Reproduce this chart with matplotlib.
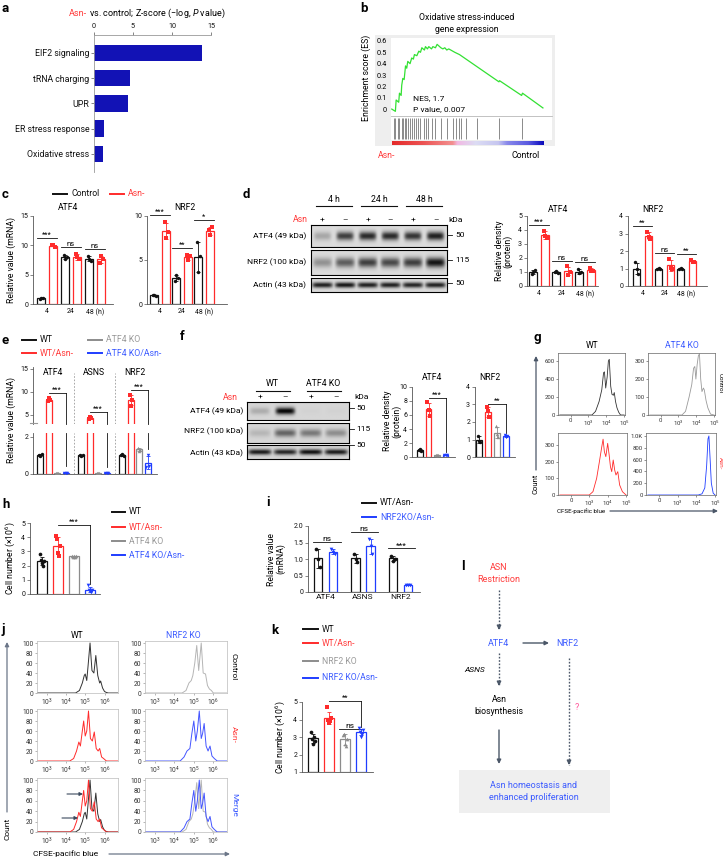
import numpy as np
import matplotlib
matplotlib.use('Agg')
import matplotlib.pyplot as plt
from matplotlib.lines import Line2D
from matplotlib.patches import Rectangle, FancyArrowPatch
from matplotlib.colors import LinearSegmentedColormap

# ---------------- data ----------------
# a  pathway enrichment
path_names = ['EIF2 signaling', 'tRNA charging', 'UPR', 'ER stress response', 'Oxidative stress']
path_z = [13.8, 4.6, 4.3, 1.3, 1.2]

# b  GSEA running enrichment score (rank in %)
es_rank = [0, 2.4, 2.9, 4.6, 5.1, 6.2, 6.6, 7.3, 8.2, 9.1, 9.9, 10.6, 12.1, 13.2, 14.3,
           15.0, 16.6, 17.9, 19.0, 19.9, 21.6, 22.3, 23.6, 24.5, 26.3, 27.2, 28.9, 30.0,
           32.5, 33.8, 35.1, 36.4, 37.7, 41.7, 44.8, 70.9, 71.3, 85.9, 86.5, 100]
es_val = [0, -0.02, 0.08, 0.06, 0.14, 0.12, 0.21, 0.27, 0.26, 0.38, 0.36, 0.42, 0.40, 0.45, 0.44,
          0.48, 0.47, 0.51, 0.50, 0.54, 0.52, 0.55, 0.53, 0.55, 0.53, 0.55, 0.54, 0.57,
          0.54, 0.53, 0.54, 0.52, 0.53, 0.50, 0.48, 0.24, 0.25, 0.12, 0.14, 0.01]
hit_rank = [1.3, 2.4, 3.8, 5.1, 6.6, 7.7, 8.6, 9.7, 11.0, 12.1, 13.5, 14.6, 16.1, 17.4, 18.8,
            21.4, 22.7, 24.1, 26.3, 28.9, 32.7, 36.4, 40.4, 42.6, 44.4, 45.9, 49.2, 56.7, 70.9, 86.1]

# c  mRNA time course (replicates)
times = ['4', '24', '48 (h)']
c_atf4_ctrl = [[0.9, 1.0, 1.1], [8.3, 7.6, 8.0], [8.2, 7.7, 7.3]]
c_atf4_asn = [[10.1, 10.0, 9.8], [8.6, 8.0, 7.6], [7.0, 8.2, 7.6]]
c_nrf2_ctrl = [[1.0, 1.05, 0.95], [2.6, 3.3, 3.0], [7.0, 3.6, 5.4]]
c_nrf2_asn = [[9.3, 7.5, 8.2], [5.6, 5.0, 5.4], [8.4, 7.8, 8.7]]
c_atf4_sig = ['***', 'ns', 'ns']
c_nrf2_sig = ['***', '**', '*']

# d  western blot + densitometry
d_band_atf4 = [0.25, 0.75, 0.85, 0.85, 0.8, 0.9]
d_band_nrf2 = [0.35, 0.6, 0.75, 0.7, 0.75, 0.95]
d_band_actin = [0.9, 0.95, 0.9, 0.9, 0.88, 0.9]
d_atf4_ctrl = [[0.85, 1.0, 1.15], [1.0, 1.1, 0.95], [1.2, 0.9, 1.0]]
d_atf4_asn = [[3.95, 3.6, 3.4], [1.4, 0.8, 1.0], [1.3, 1.1, 1.05]]
d_nrf2_ctrl = [[1.35, 0.95, 0.7], [1.0, 1.02, 0.98], [1.0, 1.02, 0.97]]
d_nrf2_asn = [[3.1, 2.8, 2.7], [1.55, 1.05, 0.95], [1.5, 1.4, 1.35]]
d_atf4_sig = ['***', 'ns', 'ns']
d_nrf2_sig = ['**', 'ns', '**']

# e  mRNA in WT / ATF4 KO
e_genes = ['ATF4', 'ASNS', 'NRF2']
e_wt = [[1.0, 0.95, 1.05], [1.0, 0.97, 1.03], [1.0, 1.05, 0.95]]
e_wt_asn = [[8.0, 8.6, 8.3], [4.1, 4.5, 4.3], [9.3, 7.0, 8.3]]
e_ko = [[0.05, 0.06, 0.04], [0.04, 0.05, 0.06], [1.4, 1.25, 1.3]]
e_ko_asn = [[0.05, 0.06, 0.07], [0.03, 0.05, 0.04], [0.4, 1.0, 0.45]]

# f  blot WT / ATF4 KO
f_band_atf4 = [0.2, 1.0, 0.02, 0.02]
f_band_nrf2 = [0.15, 0.55, 0.45, 0.35]
f_band_actin = [0.9, 0.85, 0.95, 0.9]
f_atf4 = [[1.0, 1.15, 0.9], [7.8, 6.7, 5.9], [0.3, 0.35, 0.3], [0.3, 0.32, 0.35]]
f_nrf2 = [[1.2, 0.9, 0.85], [2.85, 2.6, 2.3], [1.75, 1.3, 1.15], [1.25, 1.15, 1.2]]

# g  CFSE histograms (x in biexponential units: 0, 10^3, 10^4, 10^5 -> 0..3)
g_wt_ctrl_x = [-0.6, 1.2, 1.4, 1.6, 1.75, 1.85, 1.9, 1.97, 2.05, 2.12, 2.17, 2.25, 2.32, 2.4, 2.45, 2.52, 2.6, 2.7, 2.8, 3.0]
g_wt_ctrl_y = [0, 0, 40, 150, 280, 470, 480, 300, 420, 600, 620, 320, 230, 220, 250, 150, 80, 30, 0, 0]
g_ko_ctrl_x = [-0.6, 1.2, 1.4, 1.6, 1.75, 1.85, 1.92, 1.98, 2.05, 2.12, 2.18, 2.25, 2.32, 2.4, 2.45, 2.55, 2.65, 2.8, 3.0]
g_ko_ctrl_y = [0, 0, 20, 100, 170, 260, 270, 200, 280, 330, 340, 200, 130, 150, 140, 80, 40, 5, 0]
g_wt_asn_x = [-0.6, 1.0, 1.2, 1.4, 1.55, 1.68, 1.75, 1.82, 1.9, 2.0, 2.08, 2.15, 2.22, 2.3, 2.38, 2.45, 2.55, 2.65, 2.8, 3.0]
g_wt_asn_y = [0, 0, 20, 100, 200, 290, 335, 260, 230, 310, 240, 170, 140, 210, 150, 120, 140, 60, 20, 0]
g_ko_asn_x = [-0.6, 2.1, 2.3, 2.45, 2.55, 2.62, 2.67, 2.72, 2.8, 2.9, 3.0]
g_ko_asn_y = [0, 0, 20, 120, 500, 950, 1000, 700, 200, 30, 0]

# h  cell numbers
h_groups = ['WT', 'WT/Asn-', 'ATF4 KO', 'ATF4 KO/Asn-']
h_cells = [[2.8, 2.4, 2.2, 2.0, 2.3], [4.1, 3.9, 2.9, 2.7, 3.4],
           [2.7, 2.6, 2.65, 2.6, 2.7], [0.6, 0.3, 0.2, 0.15, 0.25]]

# i  mRNA WT/Asn- vs NRF2KO/Asn-
i_genes = ['ATF4', 'ASNS', 'NRF2']
i_wt = [[1.3, 1.0, 0.75], [1.15, 1.0, 0.9], [1.1, 0.95, 1.0]]
i_ko = [[1.3, 1.2, 1.15], [1.6, 1.4, 1.15], [0.22, 0.2, 0.21]]
i_sig = ['ns', 'ns', '***']

# j  CFSE histograms (x = log10 intensity)
j_wt_ctrl_x = [2.5, 4.5, 4.7, 4.85, 4.95, 5.0, 5.08, 5.15, 5.25, 5.35, 5.45, 5.55, 5.65, 5.75, 5.8, 5.9, 6.0, 6.1, 6.2, 6.7]
j_wt_ctrl_y = [0, 0, 5, 20, 35, 38, 25, 55, 100, 45, 40, 75, 35, 20, 24, 10, 3, 1, 0, 0]
j_ko_ctrl_x = [2.5, 4.4, 4.6, 4.75, 4.87, 4.95, 5.05, 5.15, 5.25, 5.38, 5.48, 5.6, 5.7, 5.8, 5.9, 6.0, 6.7]
j_ko_ctrl_y = [0, 0, 5, 20, 25, 35, 60, 95, 45, 100, 40, 38, 15, 8, 5, 0, 0]
j_wt_asn_x = [2.5, 4.2, 4.4, 4.55, 4.67, 4.75, 4.85, 4.92, 5.0, 5.08, 5.17, 5.27, 5.37, 5.47, 5.57, 5.67, 5.75, 5.85, 5.95, 6.1, 6.7]
j_wt_asn_y = [0, 0, 5, 20, 38, 30, 60, 80, 50, 60, 100, 45, 40, 58, 25, 20, 25, 8, 5, 0, 0]
j_ko_asn_x = [2.5, 4.3, 4.5, 4.65, 4.8, 4.9, 5.0, 5.1, 5.18, 5.28, 5.38, 5.45, 5.53, 5.63, 5.73, 5.83, 5.93, 6.05, 6.2, 6.7]
j_ko_asn_y = [0, 0, 8, 20, 25, 55, 80, 40, 60, 100, 45, 55, 75, 30, 20, 30, 10, 5, 0, 0]

# k  cell numbers WT / NRF2 KO
k_groups = ['WT', 'WT/Asn-', 'NRF2 KO', 'NRF2 KO/Asn-']
k_cells = [[3.3, 2.9, 2.6, 3.0, 2.8], [4.7, 4.0, 3.8, 3.9, 4.1],
           [3.1, 3.2, 2.6, 2.5, 2.9], [3.5, 3.3, 3.0, 3.2, 3.4]]

# ---------------- style ----------------
W, H = 723, 859
BLK = '#111111'
RED = '#ff2b2b'
GRY = '#8c8c8c'
BLU = '#1f3dff'
TRED = '#ff3b3b'
TBLU = '#3d5cff'
BARBLU = '#1212b5'
SLATE = '#4b5768'
AXC = '#555555'
FOUR = [BLK, RED, GRY, BLU]
MARK = ['o', 's', '^', 'v']

plt.rcParams['font.family'] = ['Roboto', 'DejaVu Sans']
plt.rcParams['mathtext.fontset'] = 'custom'
plt.rcParams['mathtext.rm'] = 'Roboto'
plt.rcParams['mathtext.it'] = 'Roboto:italic'
plt.rcParams['font.size'] = 5
plt.rcParams['axes.linewidth'] = 0.6
plt.rcParams['xtick.major.width'] = 0.5
plt.rcParams['ytick.major.width'] = 0.5
plt.rcParams['xtick.major.size'] = 2
plt.rcParams['ytick.major.size'] = 2
plt.rcParams['xtick.major.pad'] = 1.5
plt.rcParams['ytick.major.pad'] = 1.5

fig = plt.figure(figsize=(W / 100, H / 100), dpi=100)


def box(x0, y0, x1, y1):
    return fig.add_axes([x0 / W, 1 - y1 / H, (x1 - x0) / W, (y1 - y0) / H])


def T(x, y, s, **kw):
    kw.setdefault('ha', 'center')
    kw.setdefault('va', 'center')
    return fig.text(x / W, 1 - y / H, s, **kw)


def L(xs, ys, **kw):
    fig.add_artist(Line2D([x / W for x in xs], [1 - y / H for y in ys], **kw))


def arrow(x0, y0, x1, y1, color=SLATE, lw=1.0, dotted=False, ms=6):
    if dotted:
        L([x0, x1], [y0, y1], color=color, lw=lw, ls=(0, (1.2, 1.2)))
        dx, dy = x1 - x0, y1 - y0
        n = np.hypot(dx, dy)
        x0, y0 = x1 - 3 * dx / n, y1 - 3 * dy / n
    fig.add_artist(FancyArrowPatch((x0 / W, 1 - y0 / H), (x1 / W, 1 - y1 / H),
                                   transform=fig.transFigure, arrowstyle='-|>',
                                   mutation_scale=ms, color=color, lw=lw,
                                   shrinkA=0, shrinkB=0))


def leg(x0, y, label, color, tcolor=None, seg=14, fs=6):
    L([x0, x0 + seg], [y, y], color=color, lw=1.4)
    T(x0 + seg + 4, y, label, ha='left', color=tcolor or color, fontsize=fs)


def style(ax, color=AXC):
    for s in ('top', 'right'):
        ax.spines[s].set_visible(False)
    for s in ('left', 'bottom'):
        ax.spines[s].set_color(color)
    ax.tick_params(colors=color, labelcolor=BLK, labelsize=5)


def dotbar(ax, x, pts, color, w, marker='o', s=6, bottom=0):
    m = np.mean(pts)
    sd = np.std(pts, ddof=1)
    ax.bar(x, m - bottom, width=w, bottom=bottom, facecolor='white', edgecolor=color,
           linewidth=0.9, zorder=2)
    ax.errorbar(x, m, yerr=sd, color=color, capsize=1.3, elinewidth=0.6,
                capthick=0.6, zorder=3, fmt='none')
    offs = np.linspace(-0.2 * w, 0.2 * w, len(pts))
    ax.scatter(x + offs, pts, s=s, color=color, marker=marker, zorder=4, linewidths=0)


def sig(ax, x1, x2, y, label, drop=None, fs=5.5):
    ax.plot([x1, x2], [y, y], color=BLK, lw=0.6, clip_on=False)
    if drop is not None:
        ax.plot([x2, x2], [y, drop], color=BLK, lw=0.6, clip_on=False)
    ax.text((x1 + x2) / 2, y, label, ha='center', va='bottom', fontsize=fs)


def blot(x0, y0, x1, y1, bands, bg=0.86, wid=0.38):
    ax = box(x0, y0, x1, y1)
    n = len(bands)
    yy = np.linspace(-1, 1, 40)[:, None]
    xx = np.linspace(0, n, 300)[None, :]
    lane = np.clip(xx.astype(int), 0, n - 1)
    frac = xx - lane - 0.5
    inten = np.array(bands)[lane]
    prof = np.exp(-(yy / 0.4) ** 2) * np.exp(-(frac / wid) ** 6)
    img = bg - inten * prof * 0.82
    ax.imshow(img, cmap='gray', vmin=0, vmax=1, aspect='auto', extent=[0, n, 0, 1],
              interpolation='bilinear')
    ax.set_xticks([])
    ax.set_yticks([])
    for s in ax.spines.values():
        s.set_linewidth(0.8)
    return ax


def plabel(x, y, s):
    T(x, y, s, ha='left', fontsize=9.5, fontweight='bold')


# ---------------- a ----------------
plabel(2, 8, 'a')
T(69, 13, 'Asn-', ha='left', color=TRED, fontsize=6.5)
T(87, 13, ' vs. control; Z-score (\u2212log, $\\it{P}$ value)', ha='left', fontsize=6.5)
ax = box(94, 35, 211, 172)
yy = np.arange(len(path_names))
ax.barh(yy, path_z, height=0.66, color=BARBLU)
ax.set_xlim(0, 15)
ax.set_ylim(len(path_names) - 0.28, -0.71)
ax.xaxis.tick_top()
ax.set_xticks([0, 5, 10, 15])
ax.set_yticks(yy, path_names)
ax.tick_params(axis='y', labelsize=6.3, colors=AXC, labelcolor=BLK)
ax.tick_params(axis='x', labelsize=5.2, colors=AXC, labelcolor=BLK)
for s in ('right', 'bottom'):
    ax.spines[s].set_visible(False)
for s in ('top', 'left'):
    ax.spines[s].set_color('#999999')

# ---------------- b ----------------
plabel(360, 8, 'b')
T(467, 18, 'Oxidative stress-induced', fontsize=6.3)
T(467, 30, 'gene expression', fontsize=6.3)
fig.add_artist(Rectangle((375 / W, 1 - 146 / H), 180 / W, 111 / H, transform=fig.transFigure,
                         facecolor='#eeeeee', edgecolor='none', zorder=0))
ax = box(391, 38, 552, 116)
ax.plot(es_rank, es_val, color='#33e033', lw=0.9)
ax.set_xlim(-0.5, 106)
ax.set_ylim(-0.061, 0.626)
ax.set_xticks([])
ax.set_yticks([0, 0.1, 0.2, 0.3, 0.4, 0.5, 0.6], ['0', '0.1', '0.2', '0.3', '0.4', '0.5', '0.6'])
ax.tick_params(axis='y', length=0, labelsize=5.3, pad=3)
for s in ('top', 'right', 'left'):
    ax.spines[s].set_visible(False)
ax.spines['bottom'].set_color('#bbbbbb')
ax.text(14, 0.1, 'NES, 1.7', fontsize=6, va='center')
ax.text(14, 0.0, 'P value, 0.007', fontsize=6, va='center')
ax = box(391, 117, 552, 140)
ax.vlines(hit_rank, 0.05, 0.95, color='#777777', lw=0.6)
ax.set_xlim(-0.5, 106)
ax.set_ylim(0, 1)
ax.set_xticks([])
ax.set_yticks([])
for s in ax.spines.values():
    s.set_visible(False)
ax = box(391, 141, 552, 145)
gsea = LinearSegmentedColormap.from_list('gsea', [(0, '#e42a2a'), (0.2, '#ec5252'), (0.4, '#f29090'),
                                                  (0.43, '#f2b8e2'), (0.55, '#dcdcf4'), (0.7, '#c6c6f0'),
                                                  (0.76, '#8888ea'), (0.9, '#5a5ae0'), (0.97, '#2020c8'),
                                                  (1.0, '#0a0ab8')])
ax.imshow(np.linspace(0, 1, 256)[None, :], cmap=gsea, aspect='auto', extent=[0, 100, 0, 1])
ax.set_xlim(-0.5, 106)
ax.axis('off')
T(366, 78, 'Enrichment score (ES)', rotation=90, fontsize=6.3)
T(378, 155, 'Asn-', ha='left', color=TRED, fontsize=6.3)
T(512, 155, 'Control', ha='left', fontsize=6.3)


# ---------------- c / d bar charts ----------------
def pair_chart(rect, c0, pitch, ctrl, asn, ylim, yticks, sigs, title, tx, ty):
    x0, y0, x1, y1 = rect
    ax = box(*rect)
    ax.set_xlim((x0 - c0) / pitch, (x1 - c0) / pitch)
    ax.set_ylim(*ylim)
    ax.set_yticks(yticks)
    off, w = 6 / pitch, 7.5 / pitch
    for g, (a, b) in enumerate(zip(ctrl, asn)):
        dotbar(ax, g - off, a, BLK, w, 'o')
        dotbar(ax, g + off, b, RED, w, 's')
        top = max(a + b) + 0.08 * (ylim[1] - ylim[0])
        sig(ax, g - off - w / 2, g + off + w / 2, top, sigs[g])
    ax.set_xticks(range(len(ctrl)), times)
    style(ax)
    ax.tick_params(axis='x', length=0, pad=3)
    T(tx, ty, title, fontsize=6.2)
    return ax


plabel(2, 194, 'c')
leg(53, 194, 'Control', BLK, fs=6.3)
leg(110, 194, 'Asn-', RED, tcolor=TRED, fs=6.3)
pair_chart((33, 216, 113, 304), 47, 24, c_atf4_ctrl, c_atf4_asn, (0, 15), [0, 5, 10, 15],
           c_atf4_sig, 'ATF4', 68, 208)
pair_chart((147, 216, 227, 304), 160, 22, c_nrf2_ctrl, c_nrf2_asn, (0, 10), [0, 5, 10],
           c_nrf2_sig, 'NRF2', 185, 207)
T(11, 260, 'Relative value (mRNA)', rotation=90, fontsize=6.2)

plabel(243, 194, 'd')
T(308, 220, 'Asn', ha='right', color=TRED, fontsize=6.3)
for i, sgn in enumerate(['+', '\u2013', '+', '\u2013', '+', '\u2013']):
    T(311 + 136 / 6 * (i + 0.5), 220, sgn, fontsize=6)
for i, lab in enumerate(['4 h', '24 h', '48 h']):
    cx = 311 + 136 / 3 * (i + 0.5)
    T(cx, 200, lab, fontsize=6.3)
    L([cx - 18, cx + 18], [206, 206], color=BLK, lw=0.8)
T(448, 220, 'kDa', ha='left', fontsize=6)
blot(311, 225, 447, 247, d_band_atf4)
blot(311, 250, 447, 275, d_band_nrf2, wid=0.42)
blot(311, 278, 447, 292, d_band_actin, wid=0.45)
for yv, lab in [(236, 'ATF4 (49 kDa)'), (262, 'NRF2 (100 kDa)'), (285, 'Actin (43 kDa)')]:
    T(306, yv, lab, ha='right', fontsize=6)
for yv, lab in [(235, '50'), (260, '115'), (283, '50')]:
    L([447, 452], [yv, yv], color=BLK, lw=0.6)
    T(455, yv, lab, ha='left', fontsize=6)
pair_chart((527, 216, 598, 286), 539, 23, d_atf4_ctrl, d_atf4_asn, (0, 5), [0, 1, 2, 3, 4, 5],
           d_atf4_sig, 'ATF4', 558, 209)
pair_chart((628, 216, 707, 286), 642.5, 22, d_nrf2_ctrl, d_nrf2_asn, (0, 4), [0, 1, 2, 3, 4],
           d_nrf2_sig, 'NRF2', 653, 209)
T(499, 251, 'Relative density', rotation=90, fontsize=6.2)
T(508, 251, '(protein)', rotation=90, fontsize=6.2)

# ---------------- e ----------------
plabel(2, 340, 'e')
leg(22, 340, 'WT', BLK, fs=6.3)
leg(22, 353, 'WT/Asn-', RED, tcolor=TRED, fs=6.3)
leg(88, 340, 'ATF4 KO', GRY, tcolor='#9a9a9a', fs=6.3)
leg(88, 353, 'ATF4 KO/Asn-', BLU, tcolor=TBLU, fs=6.3)
c0, pitch = 53, 41
axu = box(33, 367, 157, 424)
axl = box(33, 433, 157, 474)
e_sets = [e_wt, e_wt_asn, e_ko, e_ko_asn]
for ax_, yl in ((axu, (3, 15.4)), (axl, (0, 2.2))):
    ax_.set_xlim((33 - c0) / pitch, (157 - c0) / pitch)
    ax_.set_ylim(*yl)
    style(ax_)
    ax_.set_xticks([])
    for xs in (0.5, 1.5):
        ax_.axvline(xs, color='#999999', lw=0.6, ls=(0, (2, 2)), ymax=0.9 if ax_ is axu else 1)
    for g in range(len(e_genes)):
        for k in range(4):
            dotbar(ax_, g + (k - 1.5) * 0.205, e_sets[k][g], FOUR[k], 0.15, MARK[k])
axu.spines['bottom'].set_visible(False)
axu.set_yticks([5, 10, 15])
axl.set_yticks([0, 2])
for g, name in enumerate(e_genes):
    axu.text(g, 14.3, name, ha='center', va='center', fontsize=6.2)
    xr, xb = g - 0.5 * 0.205, g + 1.5 * 0.205
    sig(axu, xr, xb, max(e_wt_asn[g]) + 1.2, '***', drop=3)
    axl.plot([xb, xb], [2.2, max(e_ko_asn[g]) + 0.35], color=BLK, lw=0.6)
L([30, 37], [423, 423], color='#999999', lw=0.8)
T(11, 420, 'Relative value (mRNA)', rotation=90, fontsize=6.2)

# ---------------- f ----------------
plabel(180, 337, 'f')
T(238, 397, 'Asn', ha='right', color=TRED, fontsize=6.3)
for i, sgn in enumerate(['+', '\u2013', '+', '\u2013']):
    T(247 + 102 / 4 * (i + 0.5), 397, sgn, fontsize=6)
for i, lab in enumerate(['WT', 'ATF4 KO']):
    cx = 247 + 102 / 2 * (i + 0.5)
    T(cx, 384, lab, fontsize=6.3)
    L([cx - 17, cx + 17], [391, 391], color=BLK, lw=0.8)
T(354, 397, 'kDa', ha='left', fontsize=6)
blot(247, 402, 349, 420, f_band_atf4, bg=0.84)
blot(247, 423, 349, 443, f_band_nrf2, bg=0.84, wid=0.42)
blot(247, 445, 349, 459, f_band_actin, bg=0.84, wid=0.45)
for yv, lab in [(411, 'ATF4 (49 kDa)'), (431, 'NRF2 (100 kDa)'), (453, 'Actin (43 kDa)')]:
    T(243, yv, lab, ha='right', fontsize=6)
for yv, lab in [(408, '50'), (429, '115'), (445, '50')]:
    L([349, 354], [yv, yv], color=BLK, lw=0.6)
    T(356, yv, lab, ha='left', fontsize=6)


def four_chart(rect, c0, pitch, sets, ylim, yticks, w=0.6, s=6):
    x0, y0, x1, y1 = rect
    ax = box(*rect)
    ax.set_xlim((x0 - c0) / pitch, (x1 - c0) / pitch)
    ax.set_ylim(*ylim)
    ax.set_yticks(yticks)
    for k, pts in enumerate(sets):
        dotbar(ax, k, pts, FOUR[k], w, MARK[k], s=s, bottom=ylim[0] if ylim[0] > 0 else 0)
    style(ax)
    ax.set_xticks([])
    return ax


ax = four_chart((412, 387, 455, 457), 420, 8.5, f_atf4, (0, 10), [0, 2, 4, 6, 8, 10], w=0.65)
sig(ax, 1, 3, max(f_atf4[1]) + 0.6, '***', drop=max(f_atf4[3]) + 0.4)
T(432, 378, 'ATF4', fontsize=6.2)
ax = four_chart((475, 387, 515, 457), 479, 9, f_nrf2, (0, 4), [0, 1, 2, 3, 4], w=0.65)
sig(ax, 1, 3, max(f_nrf2[1]) + 0.2, '**', drop=max(f_nrf2[3]) + 0.1)
T(490, 378, 'NRF2', fontsize=6.2)
T(388, 421, 'Relative density', rotation=90, fontsize=6.2)
T(397, 421, '(protein)', rotation=90, fontsize=6.2)


# ---------------- g ----------------
def flow_axes(rect, xlim, ylim, yticks, yticklabels, xticks, xticklabels, spine, fs=4.3):
    ax = box(*rect)
    ax.set_xlim(*xlim)
    ax.set_ylim(*ylim)
    ax.set_yticks(yticks, yticklabels)
    ax.set_xticks(xticks, xticklabels)
    for s in ax.spines.values():
        s.set_color(spine)
        s.set_linewidth(0.5)
    ax.tick_params(colors=spine, labelcolor='#333333', labelsize=fs, length=1.5, pad=1)
    return ax


plabel(533, 338, 'g')
T(592, 345, 'WT', fontsize=6.2)
T(682, 345, 'ATF4 KO', color=TBLU, fontsize=6.2)
gx = [0, 1, 2, 3]
gxl = ['0', '$10^3$', '$10^4$', '$10^5$']
ax = flow_axes((558, 353, 625, 415), (-0.7, 3.05), (0, 690), [0, 200, 400, 600],
               ['0', '200', '400', '600'], gx, gxl, '#666666')
ax.plot(g_wt_ctrl_x, g_wt_ctrl_y, color='#333333', lw=0.6)
ax = flow_axes((648, 353, 715, 415), (-0.7, 3.05), (0, 345), [0, 100, 200, 300],
               ['0', '100', '200', '300'], gx, gxl, '#666666')
ax.plot(g_ko_ctrl_x, g_ko_ctrl_y, color='#9a9a9a', lw=0.6)
ax = flow_axes((558, 433, 627, 495), (-0.7, 3.05), (0, 372), [0, 100, 200, 300],
               ['0', '100', '200', '300'], gx, gxl, '#666666')
ax.plot(g_wt_asn_x, g_wt_asn_y, color=RED, lw=0.6)
ax = flow_axes((646, 433, 716, 495), (-0.7, 3.05), (0, 1050), [0, 200, 400, 600, 800, 1000],
               ['0', '200', '400', '600', '800', '1.0K'], gx, gxl, '#666666')
ax.plot(g_ko_asn_x, g_ko_asn_y, color=BLU, lw=0.6)
T(720, 383, 'Control', rotation=270, fontsize=4.5)
T(720, 463, 'Asn-', rotation=270, color=TRED, fontsize=4.5)
arrow(536, 470, 536, 356, color=SLATE, lw=0.9)
T(536, 484, 'Count', rotation=90, fontsize=5.5)
T(557, 511, 'CFSE-pacific blue', ha='left', fontsize=4.5)
arrow(610, 511, 718, 511, color=SLATE, lw=0.9)

# ---------------- h ----------------
plabel(2, 505, 'h')
ax = four_chart((30, 523, 100, 594), 42, 16, h_cells, (0, 5), [0, 1, 2, 3, 4, 5], w=0.62, s=7)
sig(ax, 1, 3, 4.85, '***', drop=max(h_cells[3]) + 0.1)
T(10, 558, 'Cell number (\u00d710$^6$)', rotation=90, fontsize=6.2)
for k, (lab, ty) in enumerate(zip(h_groups, [512, 527, 541, 555])):
    leg(112, ty, lab, FOUR[k], tcolor=[BLK, TRED, '#9a9a9a', TBLU][k], seg=13, fs=6.3)

# ---------------- i ----------------
plabel(266, 503, 'i')
leg(362, 503, 'WT/Asn-', BLK, seg=14, fs=6.3)
leg(362, 517, 'NRF2KO/Asn-', BLU, tcolor=TBLU, seg=14, fs=6.3)
c0, pitch = 325.5, 37.5
ax = box(308, 526, 420, 592)
ax.set_xlim((308 - c0) / pitch, (420 - c0) / pitch)
ax.set_ylim(0, 2.0)
ax.set_yticks([0, 0.5, 1.0, 1.5, 2.0], ['0', '0.5', '1.0', '1.5', '2.0'])
for g in range(len(i_genes)):
    dotbar(ax, g - 0.2, i_wt[g], BLK, 0.22, 'o', s=7)
    dotbar(ax, g + 0.2, i_ko[g], BLU, 0.22, 'v', s=7)
    top = max(i_wt[g] + i_ko[g]) + 0.22
    sig(ax, g - 0.33, g + 0.4, top, i_sig[g], fs=6)
ax.set_xticks(range(len(i_genes)), i_genes)
style(ax)
ax.tick_params(axis='x', length=0, labelsize=6)
T(272, 559, 'Relative value', rotation=90, fontsize=6.2)
T(281, 559, '(mRNA)', rotation=90, fontsize=6.2)

# ---------------- j ----------------
plabel(2, 629, 'j')
T(77, 635, 'WT', fontsize=6.2)
T(183, 635, 'NRF2 KO', color=TBLU, fontsize=6.2)
jx = [3, 4, 5, 6]
jxl = ['$10^3$', '$10^4$', '$10^5$', '$10^6$']
jy = [0, 20, 40, 60, 80, 100]
jyl = ['0', '20', '40', '60', '80', '100']
rows = [(641, 693), (709, 761), (778, 832)]
cols = [(37, 118), (145, 227)]
panels_j = [
    [[(j_wt_ctrl_x, j_wt_ctrl_y, '#333333')], [(j_ko_ctrl_x, j_ko_ctrl_y, '#b5b5b5')]],
    [[(j_wt_asn_x, j_wt_asn_y, RED)], [(j_ko_asn_x, j_ko_asn_y, '#4455ff')]],
    [[(j_wt_ctrl_x, j_wt_ctrl_y, '#333333'), (j_wt_asn_x, j_wt_asn_y, RED)],
     [(j_ko_ctrl_x, j_ko_ctrl_y, '#b5b5b5'), (j_ko_asn_x, j_ko_asn_y, '#4455ff')]],
]
for r, (ya, yb) in enumerate(rows):
    for c, (xa, xb) in enumerate(cols):
        ax = flow_axes((xa, ya, xb, yb), (2.5, 6.7), (0, 104), jy, jyl, jx, jxl, '#bbbbbb', fs=4.8)
        ax.tick_params(colors='#999999', labelcolor='#333333')
        for xs, ys, col in panels_j[r][c]:
            ax.plot(xs, ys, color=col, lw=0.7)
T(234, 667, 'Control', rotation=270, fontsize=6)
T(234, 735, 'Asn-', rotation=270, color=TRED, fontsize=6)
T(234, 805, 'Merge', rotation=270, color=TBLU, fontsize=6)
arrow(67, 794, 83, 794, color='#3b4a5e', lw=0.8, ms=5)
arrow(62, 818, 78, 818, color='#3b4a5e', lw=0.8, ms=5)
arrow(7, 812, 7, 642, color='#6b7688', lw=0.9)
T(7, 829, 'Count', rotation=90, fontsize=6)
T(33, 854, 'CFSE-pacific blue', ha='left', fontsize=6)
arrow(109, 854, 230, 854, color='#6b7688', lw=0.9)

# ---------------- k ----------------
plabel(271, 630, 'k')
for k, (lab, ty) in enumerate(zip(k_groups, [629, 643, 661, 678])):
    leg(303, ty, lab, FOUR[k], tcolor=[BLK, TRED, '#9a9a9a', TBLU][k], seg=15, fs=6.2)
ax = four_chart((302, 702, 373, 772), 313, 16, k_cells, (1, 5), [1, 2, 3, 4, 5], w=0.62, s=7)
sig(ax, 1, 3, 5.05, '**', drop=max(k_cells[3]) + 0.1)
sig(ax, 1.6, 3, max(k_cells[2]) + 0.25, 'ns', fs=6)
T(280, 737, 'Cell number (\u00d710$^6$)', rotation=90, fontsize=6.2)

# ---------------- l ----------------
plabel(461, 567, 'l')
T(499, 568, 'ASN', color=TRED, fontsize=6.5)
T(499, 580, 'Restriction', color=TRED, fontsize=6.5)
arrow(499, 590, 499, 630, color=SLATE, lw=1.0, dotted=True)
T(499, 643, 'ATF4', color=TBLU, fontsize=6.5)
arrow(523, 643, 549, 643, color=SLATE, lw=1.0)
T(567, 643, 'NRF2', color=TBLU, fontsize=6.5)
T(475, 670, 'ASNS', fontsize=6, style='italic')
arrow(499, 653, 499, 686, color=SLATE, lw=1.0, dotted=True)
T(499, 700, 'Asn', fontsize=6.3)
T(499, 711, 'biosynthesis', fontsize=6.3)
arrow(499, 730, 499, 764, color=SLATE, lw=1.0)
arrow(569, 658, 569, 765, color=SLATE, lw=1.0, dotted=True)
T(577, 708, '?', color='#ff5599', fontsize=6.5)
fig.add_artist(Rectangle((459 / W, 1 - 813 / H), 151 / W, 43 / H, transform=fig.transFigure,
                         facecolor='#efefef', edgecolor='none', zorder=0))
T(534, 786, 'Asn homeostasis and', color=TBLU, fontsize=6.5)
T(534, 797, 'enhanced proliferation', color=TBLU, fontsize=6.5)

fig.savefig('out.png', dpi=100)
